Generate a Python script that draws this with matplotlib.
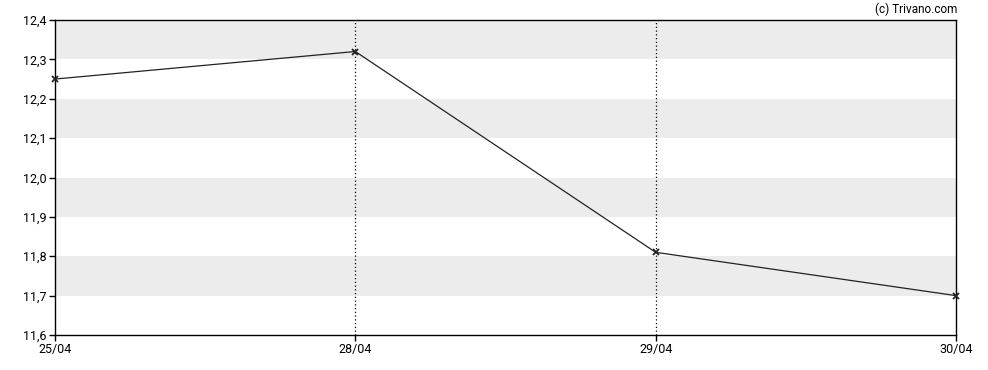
import numpy as np
import matplotlib.pyplot as plt

plt.rcParams['font.family'] = ['Roboto', 'DejaVu Sans']

dates = ['25/04', '28/04', '29/04', '30/04']
prices = [12.25, 12.32, 11.81, 11.70]
y_ticks = [11.6, 11.7, 11.8, 11.9, 12.0, 12.1, 12.2, 12.3, 12.4]

fig = plt.figure(figsize=(9.88, 3.70), dpi=100)
ax = fig.add_axes([55 / 988, 1 - 335 / 370, 901 / 988, 315 / 370])

x = np.arange(len(dates))
ax.set_xlim(0, len(dates) - 1)
ax.set_ylim(y_ticks[0], y_ticks[-1])

# bandes grises alternées
for lo in y_ticks[1::2]:
    ax.axhspan(lo, lo + 0.1, color='#ececec', lw=0, zorder=0)

# lignes verticales pointillées aux dates intermédiaires
for xi in x[1:-1]:
    ax.axvline(xi, color='black', linestyle=(0, (1, 2)), linewidth=0.9, zorder=1)

ax.plot(x, prices, color='#222222', linewidth=0.9, marker='x', markersize=4,
        markeredgewidth=1.3, markeredgecolor='#222222', zorder=3, clip_on=False)

ax.set_xticks(x)
ax.set_xticklabels(dates)
ax.set_yticks(y_ticks)
ax.set_yticklabels([f'{v:.1f}'.replace('.', ',') for v in y_ticks])
ax.tick_params(axis='both', labelsize=9, length=4, width=1, color='black', pad=2)

for s in ax.spines.values():
    s.set_linewidth(1)
    s.set_color('black')

fig.text(957 / 988, 1 - 9 / 370, '(c) Trivano.com', ha='right', va='center', fontsize=8.5)

fig.savefig('out.png', dpi=100)
